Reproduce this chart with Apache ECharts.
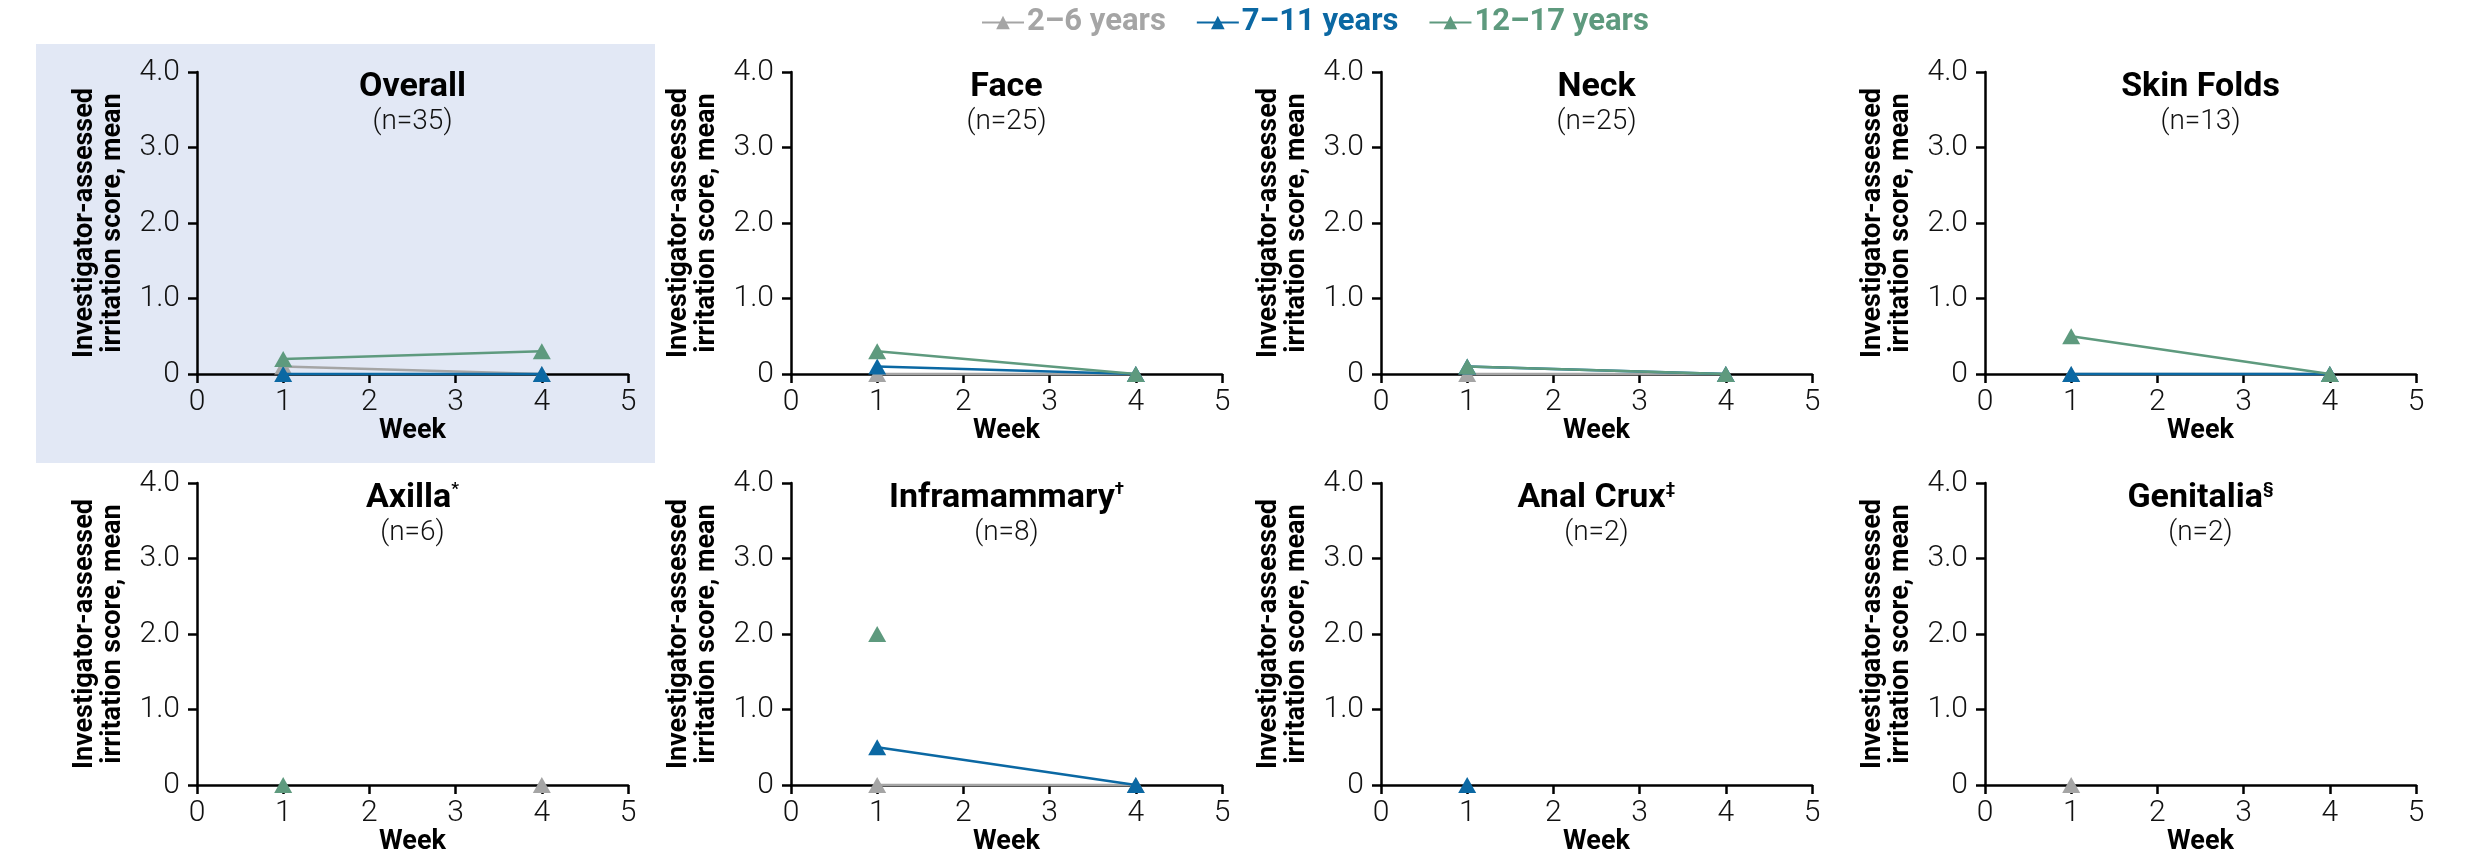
<!DOCTYPE html>
<html><head><meta charset="utf-8">
<script src="https://cdn.jsdelivr.net/npm/echarts@6/dist/echarts.min.js"></script>
<style>html,body{margin:0;padding:0;background:#fff}#c{width:2467px;height:858px}</style>
</head><body><div id="c"></div>
<script>
// ---- data ----
const weeks = [1, 4];
const seriesNames = ['2–6 years', '7–11 years', '12–17 years'];
const seriesColors = ['#a5a5a5', '#0b68a3', '#5e9a7e'];
const panelNames = ['Overall', 'Face', 'Neck', 'Skin Folds', 'Axilla', 'Inframammary', 'Anal Crux', 'Genitalia'];
const panelMarks = ['', '', '', '', '*', '†', '‡', '§'];
const panelN = ['(n=35)', '(n=25)', '(n=25)', '(n=13)', '(n=6)', '(n=8)', '(n=2)', '(n=2)'];
// values at week 1 and week 4 for each panel (null = not shown)
const age2to6   = [[0.1, 0], [0, 0], [0, 0], [0, 0], [null, 0], [0, 0], [null, null], [0, null]];
const age7to11  = [[0, 0], [0.1, 0], [0.1, 0], [0, 0], [null, null], [0.5, 0], [0, null], [null, null]];
const age12to17 = [[0.2, 0.3], [0.3, 0], [0.1, 0], [0.5, 0], [0, null], [2.0, null], [null, null], [null, null]];
const xTickMin = 0, xTickMax = 5, xTickStep = 1;
const yTickMin = 0, yTickMax = 4, yTickStep = 1;
const yAxisTitle = 'Investigator-assessed\nirritation score, mean';
const xAxisTitle = 'Week';

// ---- layout ----
const colLefts = [197, 791, 1381, 1985];
const rowTops = [72, 483];
const gridW = 431, gridH = 302;
const ageData = [age2to6, age7to11, age12to17];
const FONT = 'Roboto, "Liberation Sans", sans-serif';

const grids = [], xAxes = [], yAxes = [], series = [], graphics = [];
graphics.push({type: 'rect', z: -10, silent: true, shape: {x: 36, y: 44, width: 619, height: 419}, style: {fill: '#e2e8f5'}});

for (let p = 0; p < 8; p++) {
  const left = colLefts[p % 4], top = rowTops[Math.floor(p / 4)];
  grids.push({left: left, top: top, width: gridW, height: gridH, containLabel: false});
  const axisLine = {show: true, onZero: false, lineStyle: {color: '#000', width: 2.5}};
  const axisTick = {show: true, length: 9, inside: false, lineStyle: {color: '#000', width: 2.5}};
  xAxes.push({
    gridIndex: p, type: 'value', min: xTickMin, max: xTickMax, interval: xTickStep,
    name: xAxisTitle, nameLocation: 'middle', nameGap: 41,
    nameTextStyle: {fontSize: 27, fontWeight: 'bold', color: '#000', fontFamily: FONT},
    axisLine: axisLine, axisTick: axisTick, splitLine: {show: false},
    axisLabel: {fontSize: 30, fontWeight: 300, color: '#111', margin: 13, fontFamily: FONT}
  });
  yAxes.push({
    gridIndex: p, type: 'value', min: yTickMin, max: yTickMax, interval: yTickStep,
    name: yAxisTitle, nameLocation: 'middle', nameGap: 70, nameRotate: 90,
    nameTextStyle: {fontSize: 27, fontWeight: 'bold', color: '#000', lineHeight: 28, fontFamily: FONT},
    axisLine: axisLine, axisTick: axisTick, splitLine: {show: false},
    axisLabel: {fontSize: 30, fontWeight: 300, color: '#111', margin: 17, fontFamily: FONT,
      formatter: v => v === 0 ? '0' : v.toFixed(1)}
  });
  for (let s = 0; s < 3; s++) {
    series.push({
      name: seriesNames[s], type: 'line', xAxisIndex: p, yAxisIndex: p,
      data: weeks.map((w, i) => [w, ageData[s][p][i] === null ? '-' : ageData[s][p][i]]),
      symbol: 'triangle', symbolSize: [18, 16], showSymbol: true, showAllSymbol: true,
      lineStyle: {color: seriesColors[s], width: 2.5},
      itemStyle: {color: seriesColors[s]},
      z: 2 + s, silent: true, clip: false
    });
  }
  const cx = left + gridW / 2;
  graphics.push({
    type: 'text', z: 10, silent: true, x: cx, y: top + 15,
    style: {
      text: '{t|' + panelNames[p] + '}' + (panelMarks[p] ? '{s|' + panelMarks[p] + '}' : ''),
      align: 'center', verticalAlign: 'middle',
      rich: {
        t: {fontSize: 34, fontWeight: 'bold', fill: '#000', fontFamily: FONT},
        s: {fontSize: 17, fontWeight: 'bold', fill: '#000', fontFamily: FONT, verticalAlign: 'top', padding: [0, 0, 16, 0]}
      }
    }
  });
  graphics.push({
    type: 'text', z: 10, silent: true, x: cx, y: top + 50,
    style: {text: panelN[p], align: 'center', verticalAlign: 'middle', fontSize: 28, fontWeight: 300, fill: '#111', fontFamily: FONT}
  });
}

const chart = echarts.init(document.getElementById('c'), null, {renderer: 'canvas'});
chart.setOption({
  animation: false,
  backgroundColor: '#fff',
  legend: {
    top: 2, left: 976, itemGap: 30, itemWidth: 42, itemHeight: 17,
    data: seriesNames.map((n, i) => ({name: n, textStyle: {color: seriesColors[i]}})),
    textStyle: {fontSize: 31, fontWeight: 'bold', fontFamily: FONT, padding: [0, 0, 0, -2]}
  },
  grid: grids, xAxis: xAxes, yAxis: yAxes, series: series,
  graphic: {elements: graphics}
});
</script></body></html>
